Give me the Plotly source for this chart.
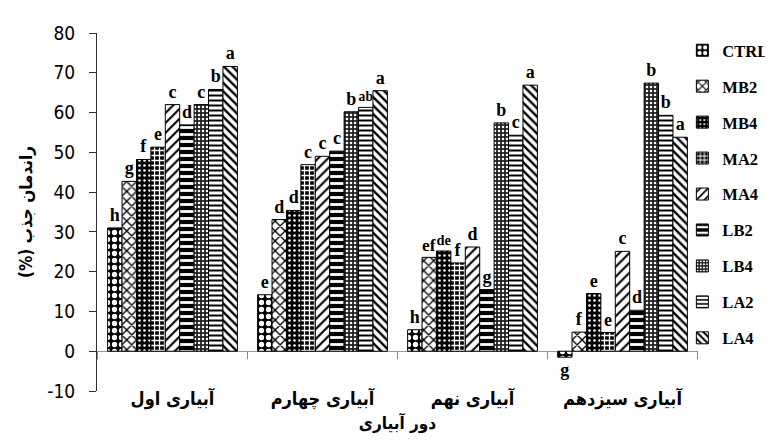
import plotly.graph_objects as go

# ---------------- data ----------------
categories = ["آبیاری اول", "آبیاری چهارم", "آبیاری نهم", "آبیاری سیزدهم"]
series_names = ["CTRL", "MB2", "MB4", "MA2", "MA4", "LB2", "LB4", "LA2", "LA4"]

ctrl = [31.0, 14.2, 5.4, -1.5]
mb2 = [42.7, 33.1, 23.6, 4.8]
mb4 = [48.2, 35.4, 25.2, 14.5]
ma2 = [51.3, 46.9, 22.2, 4.7]
ma4 = [62.0, 49.0, 26.2, 25.1]
lb2 = [56.9, 50.3, 15.5, 10.3]
lb4 = [62.0, 60.2, 57.4, 67.4]
la2 = [65.8, 61.3, 54.3, 59.3]
la4 = [71.6, 65.5, 66.9, 53.8]

ctrl_letters = ["h", "e", "h", "g"]
mb2_letters = ["g", "d", "ef", "f"]
mb4_letters = ["f", "d", "de", "e"]
ma2_letters = ["e", "c", "f", "e"]
ma4_letters = ["c", "c", "d", "c"]
lb2_letters = ["d", "c", "g", "d"]
lb4_letters = ["c", "b", "b", "b"]
la2_letters = ["b", "ab", "c", "b"]
la4_letters = ["a", "a", "a", "a"]

y_tick_values = [-10, 0, 10, 20, 30, 40, 50, 60, 70, 80]
y_tick_labels = ["-10", "0", "10", "20", "30", "40", "50", "60", "70", "80"]

x_title = "دور آبیاری"
y_title = "راندمان جذب (%)"

values = [ctrl, mb2, mb4, ma2, ma4, lb2, lb4, la2, la4]
letters = [ctrl_letters, mb2_letters, mb4_letters, ma2_letters, ma4_letters,
           lb2_letters, lb4_letters, la2_letters, la4_letters]

# ---------------- styles ----------------
patterns = [
    dict(shape=".", bgcolor="black", fgcolor="white", size=7, solidity=0.45),
    dict(shape="x", bgcolor="white", fgcolor="black", size=7, solidity=0.35),
    dict(shape=".", bgcolor="black", fgcolor="white", size=5, solidity=0.2),
    dict(shape="+", bgcolor="black", fgcolor="white", size=5, solidity=0.45),
    dict(shape="/", bgcolor="white", fgcolor="black", size=7, solidity=0.3),
    dict(shape="-", bgcolor="black", fgcolor="white", size=7, solidity=0.4),
    dict(shape=".", bgcolor="#222", fgcolor="white", size=4, solidity=0.3),
    dict(shape="-", bgcolor="white", fgcolor="black", size=5, solidity=0.4),
    dict(shape="\\", bgcolor="white", fgcolor="black", size=6, solidity=0.4),
]

serif = "Liberation Serif, Times New Roman, serif"
arabic = "DejaVu Sans Condensed, DejaVu Sans, sans-serif"
narrow = "Liberation Sans Narrow, DejaVu Sans Condensed, Arial Narrow, sans-serif"

RLM = "\u200f"

fig = go.Figure()
for i, name in enumerate(series_names):
    fig.add_trace(go.Bar(
        name=name,
        x=categories,
        y=values[i],
        text=letters[i],
        textposition="outside",
        textfont=dict(family=serif, size=18, color="black", weight="bold"),
        marker=dict(color="white",
                    line=dict(color="black", width=1),
                    pattern=dict(fillmode="replace", **patterns[i])),
        legendgroup=name,
        cliponaxis=False,
    ))

# small downward ticks at category boundaries on the zero line
for k in range(len(categories) + 1):
    fig.add_shape(type="line", xref="x", yref="y",
                  x0=k - 0.5, x1=k - 0.5, y0=0, y1=-8,
                  ysizemode="pixel", yanchor=0,
                  line=dict(color="#888", width=1))

fig.update_layout(
    width=773, height=440,
    margin=dict(l=89, r=83, t=25, b=57, autoexpand=False),
    paper_bgcolor="white", plot_bgcolor="white",
    barmode="group", bargap=0.135, bargroupgap=0,
    font=dict(family=arabic, color="black"),
    legend=dict(
        x=0.974, xanchor="left", y=1.0, yanchor="top",
        font=dict(family=serif, size=16.5, color="black", weight="bold"),
        tracegroupgap=11.5,
        bgcolor="rgba(0,0,0,0)",
        itemwidth=30,
    ),
    xaxis=dict(
        automargin=False,
        showline=False, ticks="", showgrid=False,
        tickfont=dict(family=arabic, size=18, color="black", weight="bold"),
        title=dict(text=x_title, standoff=8,
                   font=dict(family=arabic, size=17, color="black", weight="bold")),
        ticklabelstandoff=-5,
    ),
    yaxis=dict(
        automargin=False,
        range=[-10, 80],
        tickvals=y_tick_values, ticktext=y_tick_labels,
        showline=True, linecolor="#333", linewidth=1,
        ticks="outside", ticklen=7, tickcolor="#333",
        showgrid=False,
        zeroline=True, zerolinecolor="#999", zerolinewidth=1,
        tickfont=dict(family=narrow, size=19, color="black"),
        ticklabelstandoff=10,
        title=dict(text=RLM + y_title + RLM, standoff=10,
                   font=dict(family=arabic, size=17, color="black", weight="bold")),
    ),
)

fig.write_html("out.html")
